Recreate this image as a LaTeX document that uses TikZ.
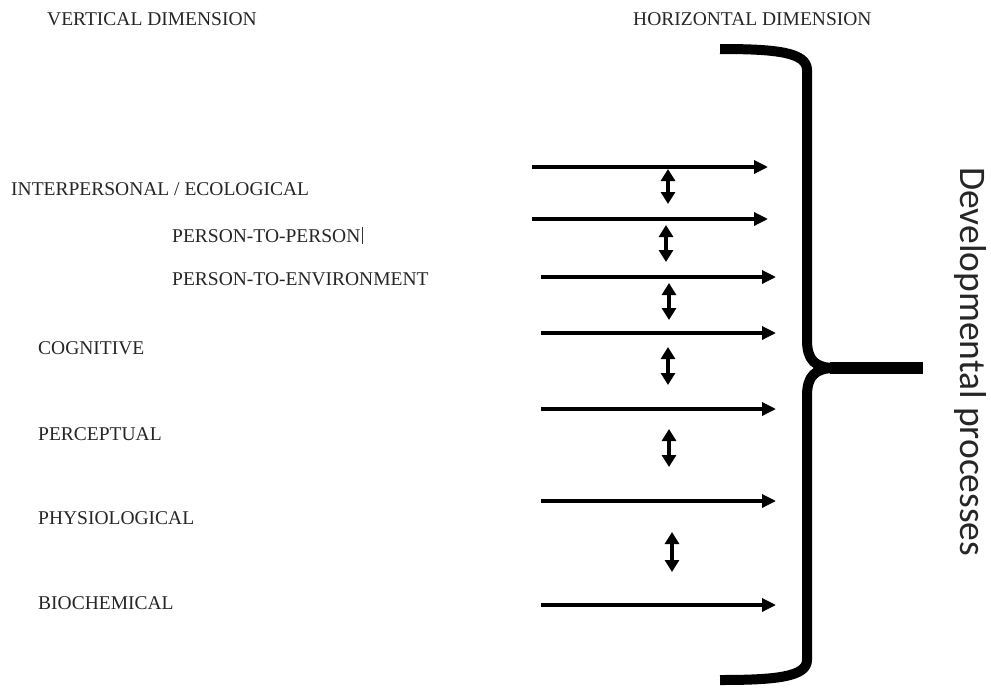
\documentclass[tikz,border=0pt]{standalone}
\usepackage{fontspec}
\setmainfont{Liberation Serif}
\newfontfamily\carlito{Carlito}
\usetikzlibrary{arrows.meta}
\begin{document}
\begin{tikzpicture}[x=1pt,y=-1pt,
  lbl/.style={anchor=base west,inner sep=0pt,text=black!85,font=\fontsize{19.5}{22}\selectfont},
  flow/.style={line width=3.3pt,-{Triangle[length=14pt,width=13pt]}},
  link/.style={line width=3.3pt,{Triangle[length=12pt,width=14pt]}-{Triangle[length=12pt,width=14pt]}},
  brace/.style={line width=10pt,line cap=butt,line join=round}]
\useasboundingbox (0,0) rectangle (991,689);
\fill[white] (0,0) rectangle (991,689);
% headings
\node[lbl] (vd) at (47,25) {VERTICAL DIMENSION};
\node[lbl] (hd) at (633,25) {HORIZONTAL DIMENSION};
% level labels
\node[lbl] (ie) at (11,195) {INTERPERSONAL / ECOLOGICAL};
\node[lbl] (pp) at (172,242) {PERSON-TO-PERSON};
\draw[line width=1.3pt,black!80] (pp.base east) ++(2,2) coordinate (cur1) -- ++(0,-17) coordinate (cur2);
\node[lbl] (pe) at (172,285) {PERSON-TO-ENVIRONMENT};
\node[lbl] (cg) at (38,354) {COGNITIVE};
\node[lbl] (pc) at (38,440) {PERCEPTUAL};
\node[lbl] (ph) at (38,524) {PHYSIOLOGICAL};
\node[lbl] (bc) at (38,609) {BIOCHEMICAL};
% horizontal arrows
\coordinate (a1s) at (532,167); \coordinate (a1e) at (768,167);
\coordinate (a2s) at (532,219); \coordinate (a2e) at (768,219);
\coordinate (a3s) at (541,277); \coordinate (a3e) at (776,277);
\coordinate (a4s) at (541,333); \coordinate (a4e) at (776,333);
\coordinate (a5s) at (541,409); \coordinate (a5e) at (776,409);
\coordinate (a6s) at (541,501); \coordinate (a6e) at (776,501);
\coordinate (a7s) at (541,605); \coordinate (a7e) at (776,605);
\foreach \i in {1,...,7} \draw[flow] (a\i s) -- (a\i e);
% vertical double arrows
\coordinate (d1s) at (668,169); \coordinate (d1e) at (668,204);
\coordinate (d2s) at (666,225); \coordinate (d2e) at (666,262);
\coordinate (d3s) at (669,283); \coordinate (d3e) at (669,320);
\coordinate (d4s) at (668,347); \coordinate (d4e) at (668,385);
\coordinate (d5s) at (669,429); \coordinate (d5e) at (669,467);
\coordinate (d6s) at (672,532); \coordinate (d6e) at (672,572);
\foreach \i in {1,...,6} \draw[link] (d\i s) -- (d\i e);
% brace
\coordinate (btop) at (720,49);
\coordinate (bbot) at (720,680);
\coordinate (btip) at (923,368);
\draw[brace] (btop) .. controls (775,49) and (807,52) .. (807,70)
  -- (807,340) .. controls (807,360) and (815,368) .. (835,368);
\draw[brace] (bbot) .. controls (775,680) and (807,677) .. (807,660)
  -- (807,396) .. controls (807,376) and (815,368) .. (835,368);
\draw[line width=12pt] (830,368) -- (btip);
% side label
\node[rotate=-90,anchor=base west,inner sep=0pt,text=black!85,font=\carlito\fontsize{37.5}{40}\selectfont] (dp) at (960,167) {Developmental processes};
\end{tikzpicture}
\end{document}
